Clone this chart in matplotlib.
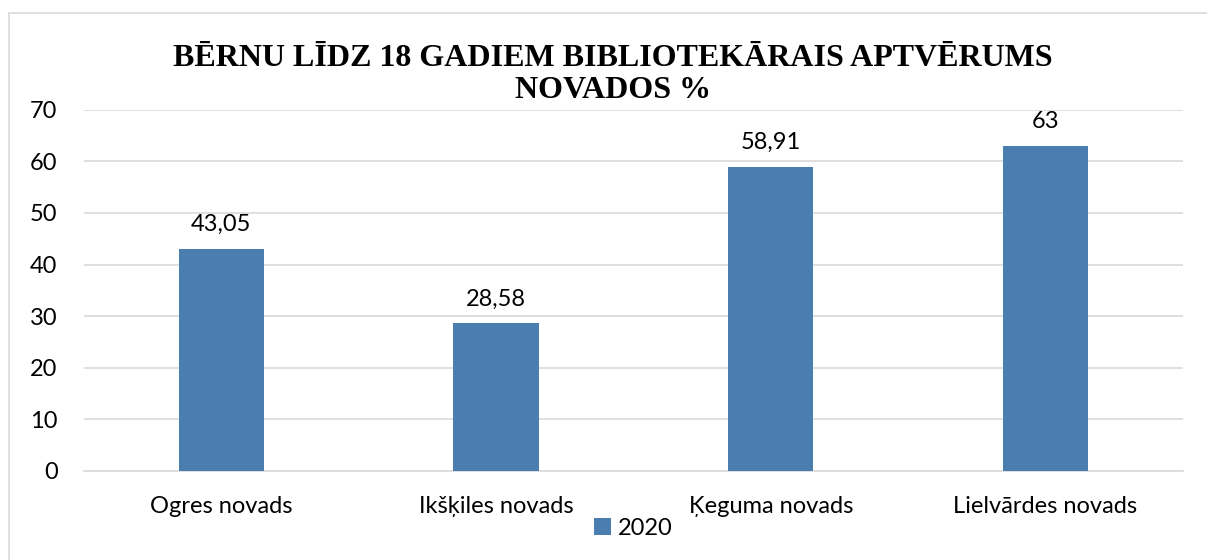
import matplotlib.pyplot as plt
from matplotlib.patches import Rectangle

categories = ['Ogres novads', 'Ikšķiles novads', 'Ķeguma novads', 'Lielvārdes novads']
values = [43.05, 28.58, 58.91, 63]
value_labels = ['43,05', '28,58', '58,91', '63']
series_name = '2020'
title = 'BĒRNU LĪDZ 18 GADIEM BIBLIOTEKĀRAIS APTVĒRUMS\nNOVADOS %'

bar_color = '#4A7EB0'
plt.rcParams['font.family'] = ['Lato', 'DejaVu Sans']

fig = plt.figure(figsize=(12.07, 5.6), dpi=100)
ax = fig.add_axes([0.0696, 0.159, 0.9104, 0.645])

x = range(len(categories))
bars = ax.bar(x, values, width=0.31, color=bar_color, label=series_name, zorder=3)

for rect, lab in zip(bars, value_labels):
    ax.annotate(lab, (rect.get_x() + rect.get_width() / 2, rect.get_height()),
                xytext=(0, 10), textcoords='offset points',
                ha='center', va='bottom', fontsize=17, color='#000000')

ax.set_xlim(-0.5, len(categories) - 0.5)
ax.set_ylim(0, 70)
ax.set_yticks(range(0, 71, 10))
ax.set_xticks(list(x))
ax.set_xticklabels(categories)
ax.tick_params(axis='both', length=0, labelsize=17, colors='#000000')
ax.tick_params(axis='x', pad=18)
ax.tick_params(axis='y', pad=19)
ax.grid(axis='y', color='#D9D9D9', linewidth=1.2, zorder=0)
for s in ['top', 'right', 'left']:
    ax.spines[s].set_visible(False)
ax.spines['bottom'].set_color('#D9D9D9')
ax.spines['bottom'].set_linewidth(1.2)

fig.text(0.508, 0.867, title, ha='center', va='center', fontsize=23,
         fontweight='bold', family='Liberation Serif', linespacing=1.15)

ax.legend(loc='center', bbox_to_anchor=(0.5, -0.158), frameon=False,
          fontsize=17, handlelength=0.7, handleheight=0.7, handletextpad=0.3)

# outer chart border
fig.patches.append(Rectangle((9 / 1207, -0.1), 1.2, 1 - 13 / 560 + 0.1,
                             transform=fig.transFigure, fill=False,
                             edgecolor='#D9D9D9', linewidth=1.2))

fig.savefig('out.png', dpi=100)
